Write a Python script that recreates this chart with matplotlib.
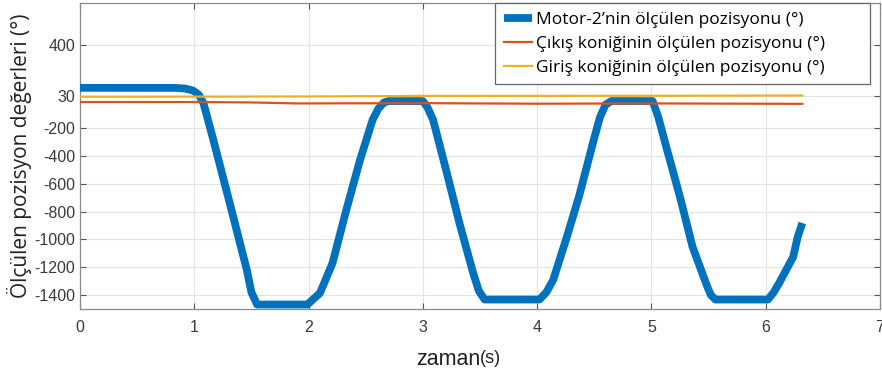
import matplotlib
matplotlib.use("Agg")
import matplotlib.pyplot as plt

# Motor-2 measured position (deg) vs time (s)
motor_t = [0.00, 0.83, 0.92, 0.99, 1.04, 1.08, 1.16, 1.31, 1.46, 1.50, 1.55,
           1.99, 2.04, 2.10, 2.21, 2.33, 2.45, 2.56, 2.61, 2.66, 2.70,
           3.00, 3.04, 3.09, 3.21, 3.32, 3.44, 3.49, 3.54,
           4.02, 4.08, 4.14, 4.26, 4.37, 4.49, 4.55, 4.60, 4.65,
           5.01, 5.06, 5.13, 5.25, 5.36, 5.49, 5.52, 5.56,
           6.02, 6.07, 6.12, 6.24, 6.28, 6.32]
motor_pos = [90, 90, 85, 70, 40, -20, -263, -738, -1220, -1380, -1468,
             -1468, -1430, -1385, -1169, -788, -429, -141, -60, -15, -5,
             -5, -50, -141, -522, -882, -1241, -1370, -1432,
             -1432, -1380, -1292, -982, -680, -300, -120, -30, -5,
             -5, -120, -335, -695, -1054, -1342, -1400, -1432,
             -1432, -1380, -1310, -1126, -982, -882]

# Output bevel gear measured position (deg)
out_t = [0.00, 1.00, 1.50, 1.90, 3.00, 4.00, 5.00, 6.32]
out_pos = [-12, -12, -15, -22, -20, -24, -22, -25]

# Input bevel gear measured position (deg)
in_t = [0.00, 1.00, 2.00, 3.00, 4.00, 5.00, 6.32]
in_pos = [26, 27, 28, 32, 32, 33, 35]

y_ticks = [400, 30, -200, -400, -600, -800, -1000, -1200, -1400]
y_tick_labels = ["400", "30", "-200", "-400", "-600", "-800", "-1000", "-1200", "-1400"]
x_ticks = [0, 1, 2, 3, 4, 5, 6, 7]

labels = ["Motor-2\u2019nin ölçülen pozisyonu (°)",
          "Çıkış koniğinin ölçülen pozisyonu (°)",
          "Giriş koniğinin ölçülen pozisyonu (°)"]

plt.rcParams["font.family"] = ["Liberation Sans", "DejaVu Sans"]

fig = plt.figure(figsize=(8.82, 3.70), dpi=100)
ax = fig.add_axes([80 / 882, 61 / 370, 800 / 882, 306 / 370])

ax.plot(motor_t, motor_pos, color="#0072BD", lw=5.6, solid_capstyle="butt",
        solid_joinstyle="round", label=labels[0], zorder=3)
ax.plot(out_t, out_pos, color="#D95319", lw=1.6, label=labels[1], zorder=4)
ax.plot(in_t, in_pos, color="#EDB120", lw=1.6, label=labels[2], zorder=4)

ax.set_xlim(0, 7)
ax.set_ylim(-1500, 700)
ax.set_xticks(x_ticks)
ax.set_yticks(y_ticks)
ax.set_yticklabels(y_tick_labels)

ax.grid(True, color="#e3e3e3", lw=0.8)
ax.set_axisbelow(True)
for s in ax.spines.values():
    s.set_color("#8a8a8a")
    s.set_linewidth(0.9)
ax.tick_params(direction="in", top=True, right=True, length=4,
               color="#555555", labelsize=11.5, labelcolor="#3a3a3a")
ax.tick_params(axis="x", pad=8)

ax.set_ylabel("Ölçülen pozisyon değerleri (°)", family=["Open Sans", "DejaVu Sans"],
              fontsize=15, color="#222222", labelpad=1.5)
ax.text(0.5, -0.13, "zaman", transform=ax.transAxes, ha="right", va="top",
        fontsize=15.5, color="#222222")
ax.text(0.5, -0.135, "(s)", transform=ax.transAxes, ha="left", va="top",
        fontsize=13, color="#222222")

# legend box stretched over a fixed span in the upper right
leg = ax.legend(loc="upper left", bbox_to_anchor=(0.519, 0.0, 0.469, 1.0),
                mode="expand", borderaxespad=0,
                fancybox=False, framealpha=1, edgecolor="#666666",
                prop={"family": ["Open Sans", "DejaVu Sans"], "size": 12.5},
                handlelength=1.6, handletextpad=0.25, labelspacing=0.45,
                borderpad=0.5)
leg.get_frame().set_linewidth(0.9)

fig.savefig("out.png", dpi=100)
